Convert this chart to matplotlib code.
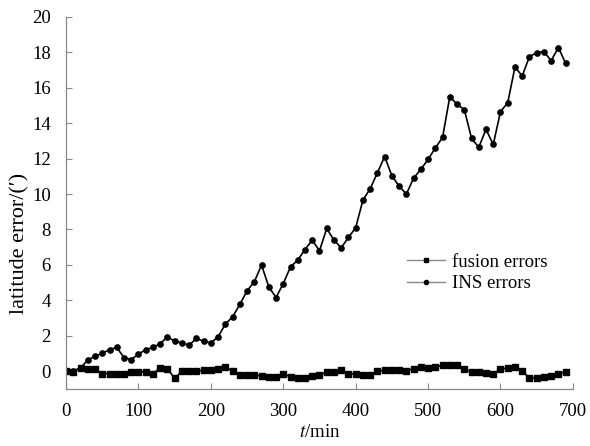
import matplotlib
matplotlib.use("Agg")
import matplotlib.pyplot as plt
from matplotlib.lines import Line2D
import numpy as np

plt.rcParams['font.family'] = ['Liberation Serif', 'DejaVu Serif']
plt.rcParams['mathtext.fontset'] = 'stix'

t_min = list(range(0, 700, 10))

ins_errors = [0.0, 0.0, 0.2, 0.62, 0.85, 1.0, 1.22, 1.34, 0.77, 0.66,
              0.96, 1.22, 1.34, 1.56, 1.94, 1.69, 1.6, 1.47, 1.85, 1.69,
              1.6, 1.94, 2.66, 3.07, 3.77, 4.54, 5.05, 5.99, 4.76, 4.16,
              4.95, 5.89, 6.27, 6.87, 7.4, 6.8, 8.06, 7.4, 6.97, 7.55,
              8.1, 9.66, 10.3, 11.2, 12.12, 11.03, 10.45, 10.0, 10.9, 11.4,
              11.96, 12.6, 13.2, 15.5, 15.07, 14.77, 13.15, 12.64, 13.65, 12.8,
              14.65, 15.16, 17.17, 16.67, 17.76, 17.98, 18.04, 17.53, 18.27, 17.38]

fusion_errors = [0.0, -0.02, 0.19, 0.11, 0.11, -0.13, -0.13, -0.13, -0.13, -0.04,
                 -0.04, -0.04, -0.13, 0.19, 0.15, -0.41, 0.0, 0.0, 0.0, 0.06,
                 0.06, 0.15, 0.24, 0.0, -0.19, -0.19, -0.23, -0.26, -0.32, -0.32,
                 -0.13, -0.32, -0.38, -0.41, -0.26, -0.23, -0.04, -0.04, 0.06, -0.15,
                 -0.15, -0.19, -0.23, 0.0, 0.04, 0.04, 0.04, 0.0, 0.15, 0.23,
                 0.19, 0.24, 0.34, 0.34, 0.34, 0.11, -0.04, -0.04, -0.08, -0.13,
                 0.11, 0.19, 0.23, 0.0, -0.38, -0.38, -0.32, -0.26, -0.13, -0.04]

x_ticks = [0, 100, 200, 300, 400, 500, 600, 700]
y_ticks = [0, 2, 4, 6, 8, 10, 12, 14, 16, 18, 20]

fig = plt.figure(figsize=(5.9, 4.46), dpi=100)
ax = fig.add_axes([0.112, 0.128, 0.859, 0.834])

ax.plot(t_min, fusion_errors, color='black', lw=1.2, marker='s', ms=3.8)
ax.plot(t_min, ins_errors, color='black', lw=1.2, marker='o', ms=3.8)

ax.set_xlim(0, 700)
ax.set_ylim(-1, 20)
ax.set_xticks(x_ticks)
ax.set_yticks(y_ticks)

for s in ['top', 'right']:
    ax.spines[s].set_visible(False)
for s in ['left', 'bottom']:
    ax.spines[s].set_color('#888888')
    ax.spines[s].set_linewidth(0.9)
ax.tick_params(direction='in', color='#888888', length=4, labelsize=13.5)
ax.tick_params(axis='x', pad=10)
ax.tick_params(axis='y', pad=11)

ax.set_xlabel(r'$\it{t}$/min', fontsize=13.5, labelpad=3)
ax.set_ylabel("latitude error/(\u2032)", fontsize=16)
ax.yaxis.set_label_coords(-0.072, 0.39)

handles = [Line2D([0], [0], color='#888888', lw=1, marker='s', ms=3,
                  markerfacecolor='black', markeredgecolor='black'),
           Line2D([0], [0], color='#888888', lw=1, marker='o', ms=3,
                  markerfacecolor='black', markeredgecolor='black')]
ax.legend(handles, ['fusion errors', 'INS errors'], loc='center left',
          bbox_to_anchor=(0.64, 0.312), frameon=False, fontsize=13.5,
          handlelength=2.0, handletextpad=0.4, labelspacing=0.25)

fig.savefig('out.png', dpi=100)
